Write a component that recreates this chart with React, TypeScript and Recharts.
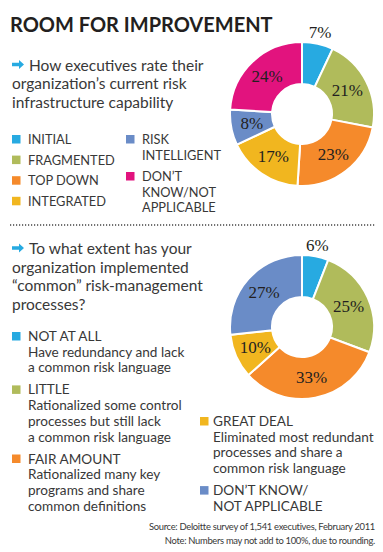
import { PieChart, Pie, Cell } from 'recharts';

// ratings of current risk infrastructure capability (%)
const ratingCategories = ['INITIAL', 'FRAGMENTED', 'TOP DOWN', 'INTEGRATED', 'RISK INTELLIGENT', 'DON’T KNOW/NOT APPLICABLE'];
const ratingValues = [7, 21, 23, 17, 8, 24];
const ratingColors = ['#27aae1', '#b0bb5b', '#f58a2b', '#f1b61f', '#6a8cc7', '#e2137e'];
const ratingLegend = [['INITIAL'], ['FRAGMENTED'], ['TOP DOWN'], ['INTEGRATED'], ['RISK', 'INTELLIGENT'], ['DON’T', 'KNOW/NOT', 'APPLICABLE']];

// extent of "common" risk-management processes (%)
const extentCategories = ['NOT AT ALL', 'LITTLE', 'FAIR AMOUNT', 'GREAT DEAL', 'DON’T KNOW/NOT APPLICABLE'];
const extentValues = [6, 25, 33, 10, 27];
const extentColors = ['#27aae1', '#b0bb5b', '#f58a2b', '#f1b61f', '#6a8cc7'];
const extentLegend = [
  ['NOT AT ALL', 'Have redundancy and lack', 'a common risk language'],
  ['LITTLE', 'Rationalized some control', 'processes but still lack', 'a common risk language'],
  ['FAIR AMOUNT', 'Rationalized many key', 'programs and share', 'common definitions'],
  ['GREAT DEAL', 'Eliminated most redundant', 'processes and share a', 'common risk language'],
  ['DON’T KNOW/', 'NOT APPLICABLE'],
];

const titleText = 'ROOM FOR IMPROVEMENT';
const question1 = ['How executives rate their', 'organization’s current risk', 'infrastructure capability'];
const question2 = ['To what extent has your', 'organization implemented', '“common” risk-management', 'processes?'];
const footnotes = ['Source: Deloitte survey of 1,541 executives, February 2011', 'Note: Numbers may not add to 100%, due to rounding.'];

const ratingData = ratingCategories.map((name, i) => ({ name, value: ratingValues[i] }));
const extentData = extentCategories.map((name, i) => ({ name, value: extentValues[i] }));

const SANS = 'Lato, "Open Sans", sans-serif';
const TEXT = '#383838';
const RADIAN = Math.PI / 180;

const renderLabel = (props: any) => {
  const { cx, cy, midAngle, innerRadius, outerRadius, index, value } = props;
  const r = index === 0 ? outerRadius + 11 : (innerRadius + outerRadius) / 2;
  const x = cx + r * Math.cos(-midAngle * RADIAN);
  const y = cy + r * Math.sin(-midAngle * RADIAN);
  return (
    <text x={x} y={y} textAnchor="middle" dominantBaseline="central"
      fontFamily='"Liberation Serif", serif' fontSize={17} fill="#231f20">
      {value}%
    </text>
  );
};

function Arrow({ x, y }: { x: number; y: number }) {
  return (
    <path
      d={`M${x} ${y - 1.8} H${x + 7} V${y - 4.5} L${x + 12} ${y} L${x + 7} ${y + 4.5} V${y + 1.8} H${x} Z`}
      fill="#27aae1"
    />
  );
}

function LegendBlock({ items, colors, x, y, lineStep, itemStep, fontSize, gap = 16 }: {
  items: string[][]; colors: string[]; x: number; y: number; lineStep: number; itemStep: number; fontSize: number; gap?: number;
}) {
  let base = y;
  return (
    <g>
      {items.map((lines, i) => {
        const top = base;
        base = top + (lines.length - 1) * lineStep + itemStep;
        return (
          <g key={i}>
            <rect x={x} y={top - 9} width={8.5} height={8.5} fill={colors[i]} />
            {lines.map((line, j) => (
              <text key={j} x={x + gap} y={top + j * lineStep} fontFamily={SANS}
                fontSize={fontSize} fill={TEXT}>
                {line}
              </text>
            ))}
          </g>
        );
      })}
    </g>
  );
}

export default function App() {
  return (
    <div style={{ position: 'absolute', left: 0, top: 0, width: 383, height: 552, background: '#fff' }}>
      <PieChart width={383} height={552} margin={{ top: 0, right: 0, bottom: 0, left: 0 }}>
        <Pie data={ratingData} dataKey="value" nameKey="name" cx={302} cy={114}
          innerRadius={30} outerRadius={72} startAngle={90} endAngle={-270}
          stroke="#ffffff" strokeWidth={2} label={renderLabel} labelLine={false}
          isAnimationActive={false}>
          {ratingData.map((d, i) => <Cell key={d.name} fill={ratingColors[i]} />)}
        </Pie>
        <Pie data={extentData} dataKey="value" nameKey="name" cx={302} cy={327}
          innerRadius={30} outerRadius={72} startAngle={90} endAngle={-270}
          stroke="#ffffff" strokeWidth={2} label={renderLabel} labelLine={false}
          isAnimationActive={false}>
          {extentData.map((d, i) => <Cell key={d.name} fill={extentColors[i]} />)}
        </Pie>
      </PieChart>
      <svg width={383} height={552} style={{ position: 'absolute', left: 0, top: 0, pointerEvents: 'none' }}>
        <text x={10} y={32} fontFamily={SANS} fontWeight={700} fontSize={20} fill="#231f20">{titleText}</text>

        <Arrow x={12} y={64.5} />
        {question1.map((line, i) => (
          <text key={i} x={12} dx={i === 0 ? 17 : 0} y={71 + i * 18.3} fontFamily={SANS}
            fontSize={15.5} fill={TEXT}>{line}</text>
        ))}

        <LegendBlock items={ratingLegend.slice(0, 4)} colors={ratingColors.slice(0, 4)}
          x={12} y={144} lineStep={15.5} itemStep={20.6} fontSize={12.8} />
        <LegendBlock items={ratingLegend.slice(4)} colors={ratingColors.slice(4)}
          x={126} y={144} lineStep={15.5} itemStep={21.5} fontSize={12.8} />

        <line x1={10} x2={375} y1={225} y2={225} stroke="#444" strokeWidth={1.5} strokeDasharray="1.2 1.8" />

        <Arrow x={12} y={248} />
        {question2.map((line, i) => (
          <text key={i} x={12} dx={i === 0 ? 17 : 0} y={254 + i * 18.6} fontFamily={SANS}
            fontSize={15.5} fill={TEXT}>{line}</text>
        ))}

        <LegendBlock items={extentLegend.slice(0, 3)} colors={extentColors.slice(0, 3)}
          x={12} y={341} lineStep={15.7} itemStep={22} fontSize={13.6} />
        <LegendBlock items={extentLegend.slice(3)} colors={extentColors.slice(3)}
          x={200} y={426} lineStep={15.7} itemStep={22} fontSize={13.6} gap={13} />

        {footnotes.map((line, i) => (
          <text key={i} x={375} y={530 + i * 14} textAnchor="end" fontFamily={SANS}
            fontSize={9.4} letterSpacing={-0.3} fill={TEXT}>{line}</text>
        ))}
      </svg>
    </div>
  );
}
